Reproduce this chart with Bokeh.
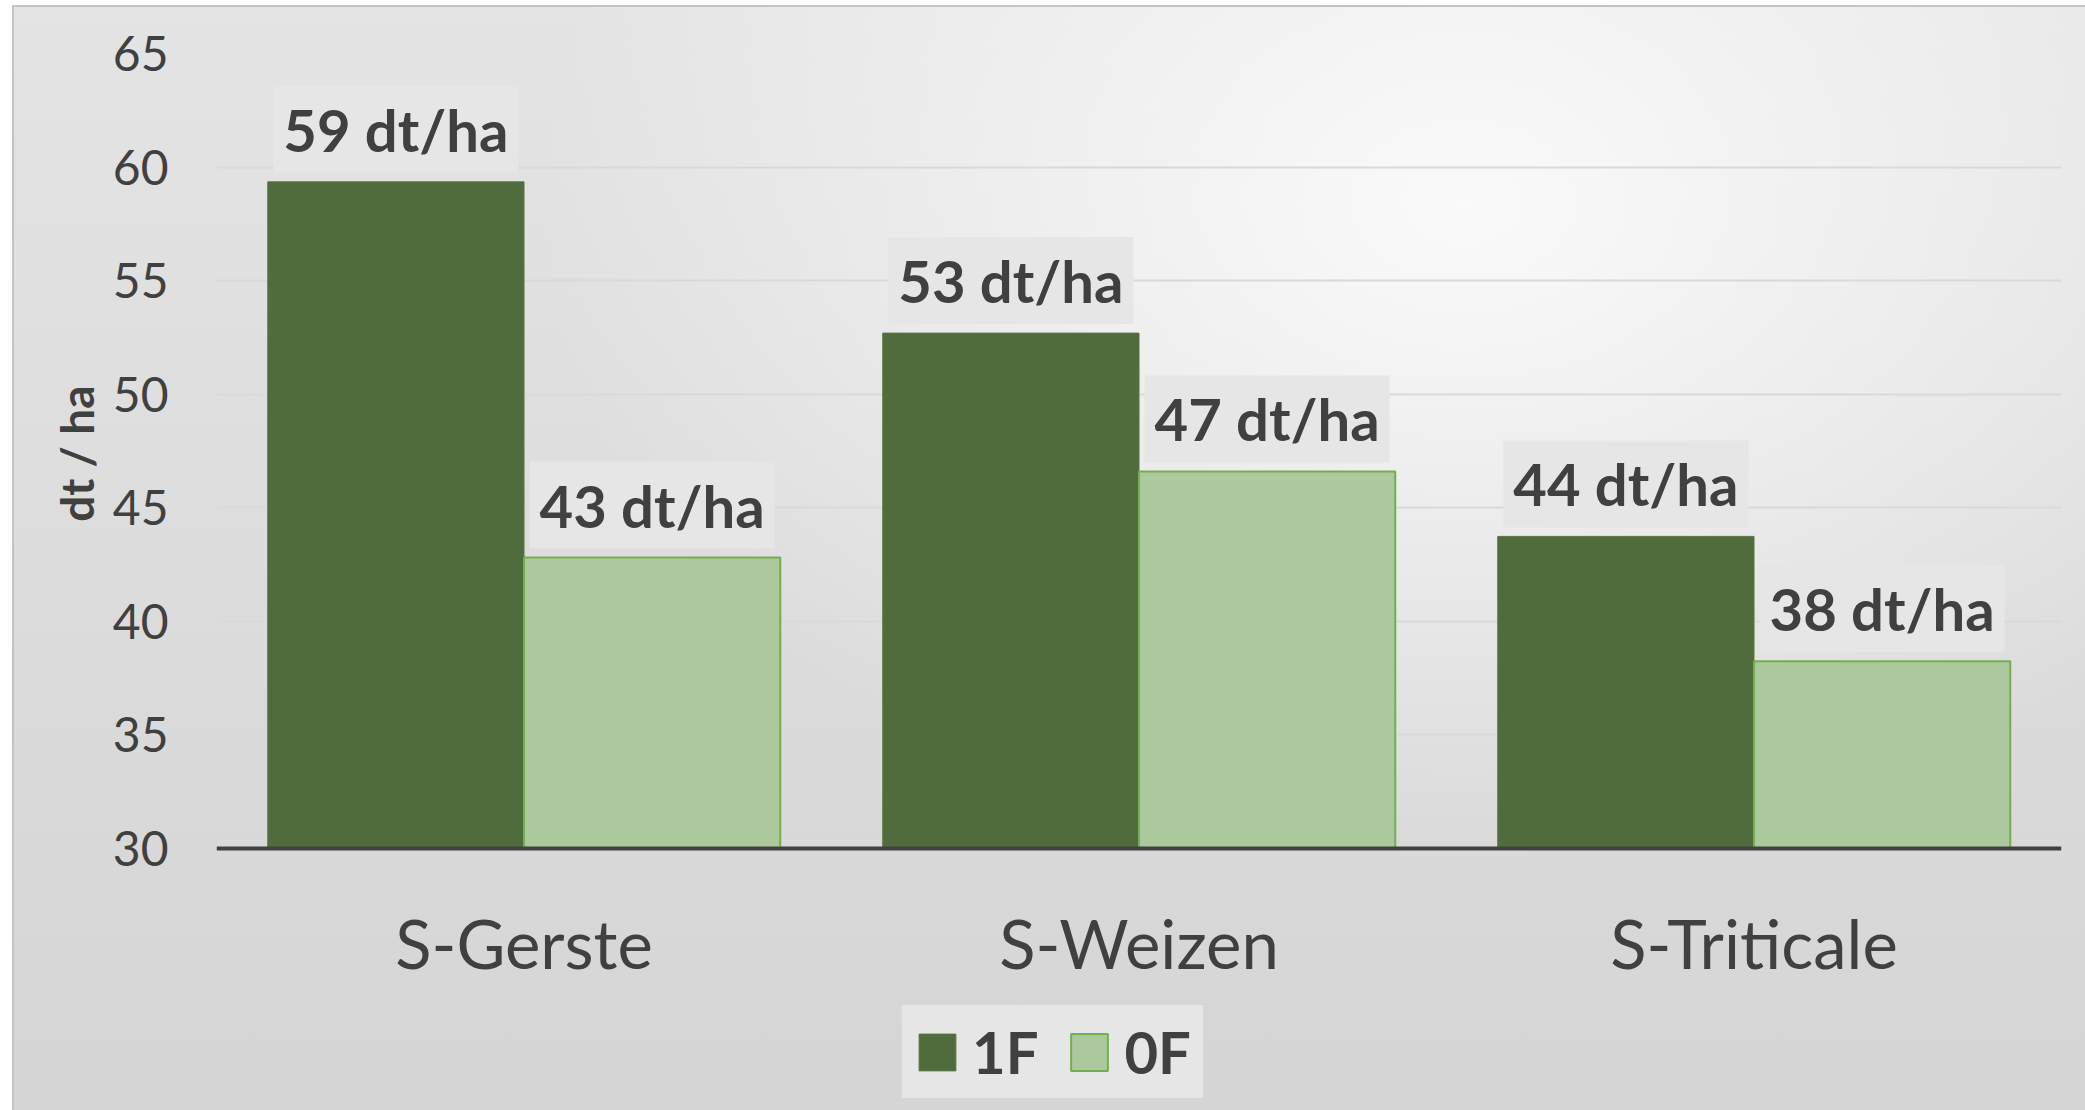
from bokeh.plotting import figure
from bokeh.models import ColumnDataSource, FactorRange, Range1d, FixedTicker, Legend, LegendItem, Span, Title
from bokeh.transform import dodge
from bokeh.core.properties import value
from bokeh.embed import file_html
from bokeh.resources import INLINE

# ---- data ----
categories = ["S-Gerste", "S-Weizen", "S-Triticale"]
series_names = ["1F", "0F"]
yield_1f = [59.35, 52.69, 43.74]
yield_0f = [42.81, 46.6, 38.24]
labels_1f = [f"{int(v + 0.5)} dt/ha" for v in yield_1f]
labels_0f = [f"{int(v + 0.5)} dt/ha" for v in yield_0f]
y_ticks = [30, 35, 40, 45, 50, 55, 60, 65]
y_title = "dt / ha"
Y0, Y1 = 30, 65

FONT = "Lato"
TXT = "#404040"
C1 = "#506c3d"
C1_LINE = "#55773f"
C0 = "#abc99c"
C0_LINE = "#75ae50"
BOX = "#e6e6e6"

src = ColumnDataSource(dict(cat=categories, f1=yield_1f, f0=yield_0f,
                            l1=labels_1f, l0=labels_0f, base=[Y0] * len(categories)))

# layout (screen px inside the plot)
W, H = 2073, 1105
FRAME_LEFT, FRAME_RIGHT_BORDER, FRAME_TOP, AXIS_Y = 204, 24, 48, 843
y_start = Y0 - (H - AXIS_Y) * (Y1 - Y0) / (AXIS_Y - FRAME_TOP)

p = figure(x_range=FactorRange(*categories), y_range=Range1d(y_start, Y1),
           width=W, height=H, output_backend="svg", toolbar_location=None,
           x_axis_location=None,
           min_border_left=FRAME_LEFT, min_border_right=FRAME_RIGHT_BORDER,
           min_border_top=FRAME_TOP, min_border_bottom=0)
p.background_fill_alpha = 0
p.border_fill_alpha = 0
p.outline_line_color = None
p.styles = {
    "margin-left": "12px",
    "margin-top": "5px",
    "background": "radial-gradient(ellipse 45% 60% at 70% 18%, rgba(250,250,250,1) 0%, rgba(250,250,250,0) 100%), "
                  "linear-gradient(to bottom, #e4e4e4 0%, #d5d5d5 100%)",
    "box-shadow": "inset 2px 2px 0 #c4c4c4",
}

bw = 1 / 2.4
r1 = p.vbar(x=dodge("cat", -bw / 2, range=p.x_range), top="f1", bottom="base", width=bw,
            source=src, fill_color=C1, line_color=C1_LINE, line_width=1)
r0 = p.vbar(x=dodge("cat", bw / 2, range=p.x_range), top="f0", bottom="base", width=bw,
            source=src, fill_color=C0, line_color=C0_LINE, line_width=2)

pad = dict(left=10, right=10, top=9, bottom=9)
for col, off, lab in (("f1", -bw / 2, "l1"), ("f0", bw / 2, "l0")):
    p.text(x=dodge("cat", off, range=p.x_range), y=col, text=lab, source=src,
           text_font=value(FONT), text_font_style="bold", text_font_size="58px",
           text_color=TXT, text_align="center", text_baseline="bottom",
           background_fill_color=BOX, padding=pad, y_offset=-9)

# category axis (drawn at y = 30)
p.add_layout(Span(location=Y0, dimension="width", line_color="#404040", line_width=4))
p.text(x="cat", y="base", text="cat", source=src, text_font=value(FONT),
       text_font_size="67px", text_color=TXT, text_align="center",
       text_baseline="alphabetic", y_offset=94)

# y axis
p.yaxis.ticker = FixedTicker(ticks=y_ticks)
p.yaxis.axis_line_color = None
p.yaxis.major_tick_line_color = None
p.yaxis.minor_tick_line_color = None
p.yaxis.major_tick_out = 0
p.yaxis.major_tick_in = 0
p.yaxis.major_label_standoff = 48
p.yaxis.major_label_text_font = FONT
p.yaxis.major_label_text_font_size = "48px"
p.yaxis.major_label_text_color = TXT

p.add_layout(Title(text=y_title, align="right", offset=332, vertical_align="bottom",
                   standoff=12, text_font=FONT, text_font_style="bold",
                   text_font_size="46px", text_color=TXT), "left")

p.ygrid.grid_line_color = "#d9d9d9"
p.ygrid.grid_line_width = 2
p.xgrid.grid_line_color = None

legend = Legend(items=[LegendItem(label=series_names[0], renderers=[r1]),
                       LegendItem(label=series_names[1], renderers=[r0])],
                location=(686, 12), orientation="horizontal",
                background_fill_color=BOX, background_fill_alpha=1,
                border_line_color=BOX, border_line_width=1,
                padding=11, margin=0, spacing=28,
                label_standoff=12, glyph_width=46, glyph_height=46,
                label_text_font=FONT, label_text_font_style="bold",
                label_text_font_size="58px", label_text_color=TXT)
p.add_layout(legend, "center")

open("out.html", "w").write(file_html(p, INLINE))
